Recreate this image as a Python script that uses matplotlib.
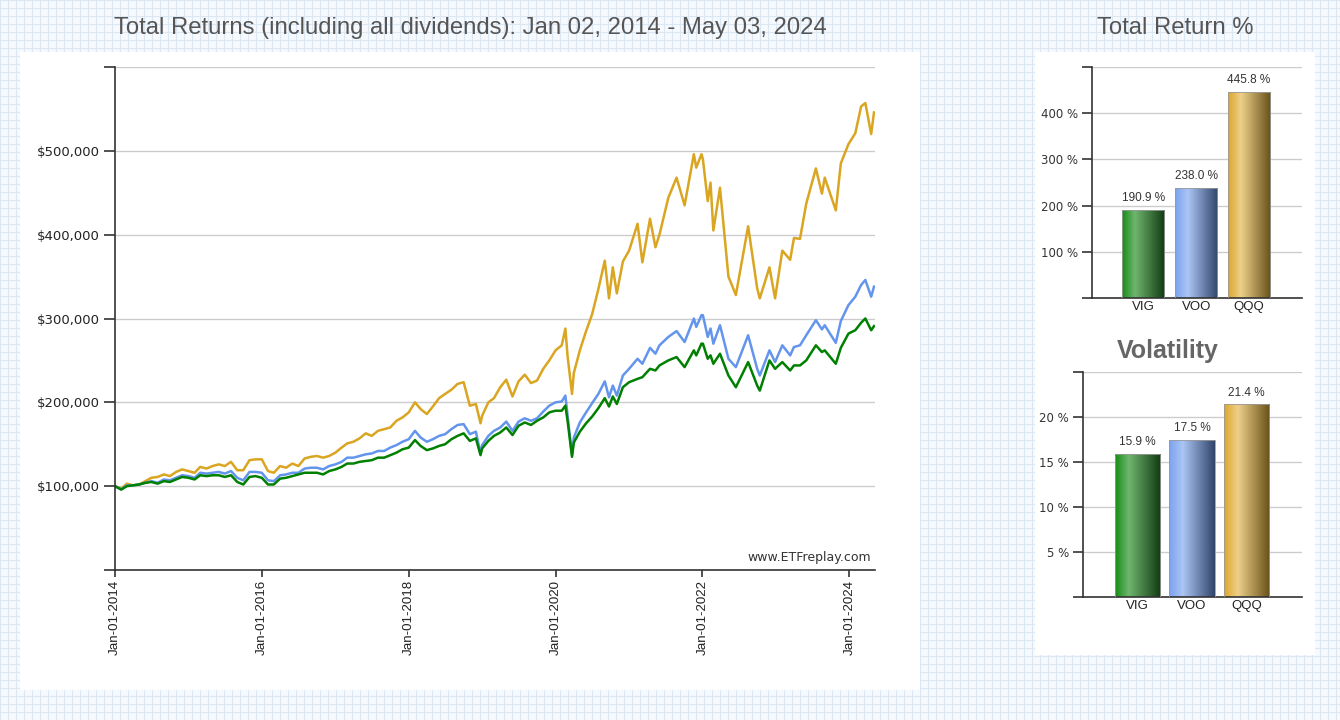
import numpy as np
import pandas as pd
import matplotlib
matplotlib.use("Agg")
import matplotlib.pyplot as plt
from matplotlib.patches import Rectangle
from matplotlib.colors import LinearSegmentedColormap

# dates shared by the three growth lines (value of $100,000 invested, in thousands)
dates = (
    ["2014-%02d-01" % m for m in range(1, 13)]
    + ["2015-%02d-01" % m for m in range(1, 13)]
    + ["2016-%02d-01" % m for m in range(1, 13)]
    + ["2017-%02d-01" % m for m in range(1, 13)]
    + ["2018-%02d-01" % m for m in range(1, 13)] + ["2018-12-24"]
    + ["2019-%02d-01" % m for m in range(1, 13)]
    + ["2020-01-01", "2020-02-01", "2020-02-19", "2020-03-01", "2020-03-23", "2020-04-01",
       "2020-05-01", "2020-06-01", "2020-07-01", "2020-08-01", "2020-09-02", "2020-09-23",
       "2020-10-12", "2020-11-01", "2020-12-01"]
    + ["2021-01-01", "2021-02-12", "2021-03-08", "2021-04-15", "2021-05-12", "2021-06-01",
       "2021-07-15", "2021-08-25", "2021-10-04", "2021-11-19", "2021-12-01", "2021-12-27"]
    + ["2022-01-03", "2022-01-27", "2022-02-10", "2022-02-24", "2022-03-29", "2022-05-10",
       "2022-06-16", "2022-08-16", "2022-09-30", "2022-10-13", "2022-11-30", "2022-12-28"]
    + ["2023-02-02", "2023-03-13", "2023-04-01", "2023-05-01", "2023-06-01", "2023-07-19",
       "2023-08-18", "2023-09-01", "2023-10-26", "2023-11-20", "2023-12-28"]
    + ["2024-01-31", "2024-02-29", "2024-03-21", "2024-04-19", "2024-05-03"]
)

qqq = [100, 97, 103, 101, 102, 106, 110, 111, 114, 112, 117, 120,
       118, 116, 123, 121, 124, 126, 124, 129, 119, 119, 131, 132,
       132, 118, 116, 124, 122, 127, 124, 133, 135, 136, 134, 136,
       140, 146, 151, 153, 157, 163, 160, 166, 168, 170, 178, 182,
       188, 200, 192, 186, 195, 205, 210, 215, 222, 224, 196, 198, 175,
       184, 200, 205, 218, 227, 207, 225, 233, 223, 226, 240, 250,
       262, 268, 288, 255, 210, 235, 262, 285, 305, 335, 369, 324, 361, 330, 368,
       381, 413, 367, 419, 385, 400, 444, 468, 435, 496, 480, 496,
       490, 440, 462, 405, 456, 350, 328, 410, 336, 324, 361, 324,
       381, 370, 396, 395, 437, 479, 449, 468, 429, 485, 508,
       521, 553, 557, 520, 545.8]

voo = [100, 96, 101, 101, 102, 104, 106, 104, 108, 107, 110, 113,
       112, 110, 116, 115, 116, 117, 115, 118, 110, 107, 117, 117,
       116, 107, 106, 113, 114, 116, 116, 121, 122, 122, 120, 124,
       126, 129, 134, 134, 136, 138, 139, 142, 142, 146, 149, 153,
       156, 166, 158, 153, 156, 160, 162, 168, 173, 174, 162, 165, 139,
       149, 160, 166, 170, 177, 166, 177, 181, 178, 181, 189, 196,
       200, 201, 208, 184, 137, 158, 176, 188, 199, 210, 225, 206, 220, 208, 232,
       240, 252, 246, 265, 258, 268, 278, 285, 272, 300, 290, 304,
       304, 278, 288, 270, 292, 252, 242, 280, 240, 232, 262, 248,
       268, 256, 266, 268, 280, 298, 287, 292, 271, 297, 316,
       326, 340, 346, 326, 338]

vig = [100, 96, 100, 101, 102, 104, 105, 103, 106, 105, 108, 111,
       110, 108, 113, 112, 113, 113, 111, 113, 105, 102, 111, 112,
       110, 102, 102, 109, 110, 112, 114, 116, 116, 116, 114, 118,
       120, 123, 127, 127, 129, 130, 131, 134, 134, 137, 140, 144,
       146, 155, 148, 143, 145, 148, 150, 156, 160, 163, 154, 157, 137,
       145, 154, 160, 164, 170, 161, 172, 176, 173, 178, 182, 188,
       190, 190, 196, 178, 135, 152, 165, 175, 183, 193, 205, 195, 207, 198, 218,
       224, 228, 230, 240, 238, 244, 250, 254, 242, 262, 256, 270,
       270, 252, 256, 246, 258, 232, 218, 248, 220, 214, 250, 240,
       248, 238, 244, 244, 250, 268, 260, 262, 246, 265, 282,
       286, 295, 300, 286, 290.9]

tickers = ["VIG", "VOO", "QQQ"]
total_return = [190.9, 238.0, 445.8]
volatility = [15.9, 17.5, 21.4]

line_colors = {"VIG": "#008000", "VOO": "#6495ED", "QQQ": "#DAA520"}
grad_colors = {
    "VIG": [(0, "#148c14"), (0.3, "#6fb56f"), (1, "#113a11")],
    "VOO": [(0, "#7aa2ee"), (0.3, "#abc5f4"), (1, "#31456a")],
    "QQQ": [(0, "#dca62a"), (0.3, "#eed08a"), (1, "#675017")],
}

W, H = 1340, 720
fig = plt.figure(figsize=(W / 100, H / 100), dpi=100)

# graph paper background + white panels
bg = fig.add_axes([0, 0, 1, 1], zorder=-10)
bg.set_xlim(0, W)
bg.set_ylim(H, 0)
bg.axis("off")
bg.add_patch(Rectangle((0, 0), W, H, facecolor="#f6f9fd", edgecolor="none"))
for gx in np.arange(0, W, 8):
    bg.axvline(gx, color="#dbe7f3", lw=0.8)
for gy in np.arange(0, H, 8):
    bg.axhline(gy, color="#dbe7f3", lw=0.8)
bg.add_patch(Rectangle((20, 52), 900, 638, facecolor="white", edgecolor="none", zorder=3))
bg.add_patch(Rectangle((1035, 52), 280, 603, facecolor="white", edgecolor="none", zorder=3))

fig.text(470 / W, 1 - 28 / H, "Total Returns (including all dividends): Jan 02, 2014 - May 03, 2024",
         ha="center", va="center", fontsize=17.2, color="#555555", family="Liberation Sans")
fig.text(1175 / W, 1 - 28 / H, "Total Return %", ha="center", va="center",
         fontsize=17.2, color="#555555", family="Liberation Sans")


def px_axes(x0, y0, x1, y1):
    return fig.add_axes([x0 / W, 1 - y1 / H, (x1 - x0) / W, (y1 - y0) / H])


# main growth chart
ax = px_axes(115, 67, 875, 570)
d = pd.to_datetime(dates)
ax.plot(d, np.array(qqq) * 1000, color=line_colors["QQQ"], lw=1.8)
ax.plot(d, np.array(voo) * 1000, color=line_colors["VOO"], lw=1.8)
ax.plot(d, np.array(vig) * 1000, color=line_colors["VIG"], lw=1.8)
ax.set_xlim(pd.Timestamp("2014-01-01"), pd.Timestamp("2024-05-08"))
ax.set_ylim(0, 600000)
yt = np.arange(0, 600001, 100000)
ax.set_yticks(yt)
ax.set_yticklabels(["" if v in (0, 600000) else "${:,.0f}".format(v) for v in yt],
                   fontsize=9.5, color="#222222", family="DejaVu Sans")
xt = pd.to_datetime(["%d-01-01" % y for y in range(2014, 2025, 2)])
ax.set_xticks(xt)
ax.set_xticklabels([t.strftime("%b-%d-%Y") for t in xt], rotation=90,
                   fontsize=9.6, color="#222222", family="Liberation Sans")
ax.grid(axis="y", color="#cccccc", lw=1)
ax.set_axisbelow(True)
for s in ["top", "right"]:
    ax.spines[s].set_visible(False)
for s in ["left", "bottom"]:
    ax.spines[s].set_color("#333333")
    ax.spines[s].set_linewidth(1.2)
ax.tick_params(axis="y", length=8, width=1.2, color="#333333", pad=3)
ax.tick_params(axis="x", length=5, width=1.2, color="#333333", pad=2)
ax.text(0.995, 0.012, "www.ETFreplay.com", transform=ax.transAxes, ha="right", va="bottom",
        fontsize=9, color="#333333", family="DejaVu Sans")


def gradient_bars(a, values, width, ymax, xl, ticks, fmt_top):
    bars = a.bar(range(len(values)), values, width=width, color="none", edgecolor="#9a9a9a",
                 lw=0.6, zorder=3)
    for b, t, v in zip(bars, tickers, values):
        cmap = LinearSegmentedColormap.from_list(t, grad_colors[t])
        grad = np.linspace(0, 1, 256).reshape(1, -1)
        im = a.imshow(grad, cmap=cmap, aspect="auto", zorder=2,
                      extent=(b.get_x(), b.get_x() + b.get_width(), 0, v))
        im.set_clip_path(b)
        a.text(b.get_x() + b.get_width() / 2, v + ymax * 0.025, fmt_top.format(v),
               ha="center", va="bottom", fontsize=8.5, color="#333333", family="Liberation Sans")
    a.set_xlim(*xl)
    a.set_ylim(0, ymax)
    a.set_yticks(ticks)
    a.set_yticklabels(["" if (v == 0 or v == ymax) else "%g %%" % v for v in ticks],
                      fontsize=8.5, color="#333333", family="DejaVu Sans")
    a.set_xticks(range(len(values)))
    a.set_xticklabels(tickers, fontsize=9.5, color="#222222", family="Liberation Sans")
    a.tick_params(axis="x", length=0, pad=2)
    a.tick_params(axis="y", length=7, width=1.2, color="#333333", pad=3)
    a.grid(axis="y", color="#cccccc", lw=1)
    a.set_axisbelow(True)
    for s in ["top", "right"]:
        a.spines[s].set_visible(False)
    for s in ["left", "bottom"]:
        a.spines[s].set_color("#333333")
        a.spines[s].set_linewidth(1.2)


ax2 = px_axes(1092, 67, 1302, 298)
gradient_bars(ax2, total_return, 0.8, 500, (-0.97, 3.0), np.arange(0, 501, 100), "{:.1f} %")

fig.text(1168 / W, 1 - 351 / H, "Volatility", ha="center", va="center", fontsize=18,
         fontweight="bold", color="#666666", family="Liberation Sans")
ax3 = px_axes(1083, 372, 1302, 597)
gradient_bars(ax3, volatility, 0.83, 25, (-1.0, 3.02), np.arange(0, 26, 5), "{:.1f} %")

fig.savefig("out.png", dpi=100)
